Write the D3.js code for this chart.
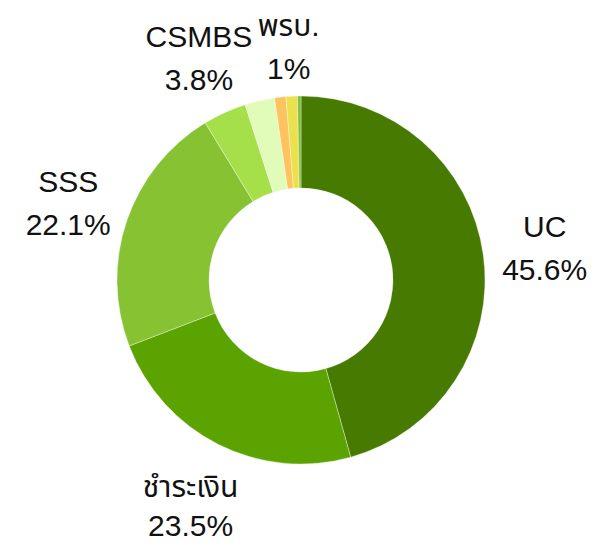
<!DOCTYPE html>
<html>
<head>
<meta charset="utf-8">
<script src="https://cdn.jsdelivr.net/npm/d3@7"></script>
<style>
  html, body { margin: 0; padding: 0; background: #fff; }
  svg { display: block; }
  text { font-family: "Liberation Sans", Arial, "Noto Sans Thai", sans-serif; }
</style>
</head>
<body>
<svg id="chart" width="600" height="543"></svg>
<script>
// ---- data ----
const categories = ["UC", "ชำระเงิน", "SSS", "CSMBS", "อปท.", "ประกันเอกชน", "พรบ.", "อื่นๆ"];
const values = [45.6, 23.5, 22.1, 3.8, 2.6, 1.0, 1.0, 0.3];
const labelNames = ["UC", "ชำระเงิน", "SSS", "CSMBS", "", "", "พรบ.", ""];
const labelValues = ["45.6%", "23.5%", "22.1%", "3.8%", "", "", "1%", ""];
const colors = ["#467a00", "#5ba300", "#86c232", "#a5e04b", "#e1fbb9", "#fdc35e", "#ebe04e", "#7fbf3a"];

// ---- layout ----
const cx = 301, cy = 280, outerR = 184, innerR = 92, labelR = 246;
const labelShift = { "ชำระเงิน": 6, "พรบ.": 11 };
const lineGap = { "ชำระเงิน": 39 };

const svg = d3.select("#chart");
const g = svg.append("g").attr("transform", `translate(${cx},${cy})`);

const data = categories.map((c, i) => ({ cat: c, value: values[i], name: labelNames[i], pct: labelValues[i], color: colors[i] }));

const pie = d3.pie().value(d => d.value).sort(null);
const arc = d3.arc().innerRadius(innerR).outerRadius(outerR);
const labelArc = d3.arc().innerRadius(labelR).outerRadius(labelR);

const arcs = pie(data);

g.selectAll("path.slice")
  .data(arcs)
  .join("path")
  .attr("class", "slice")
  .attr("d", arc)
  .attr("fill", d => d.data.color)
  .attr("stroke", "#ffffff")
  .attr("stroke-opacity", 0.6)
  .attr("stroke-width", 0.6);

const labels = g.selectAll("g.label")
  .data(arcs.filter(d => d.data.name))
  .join("g")
  .attr("class", "label")
  .attr("transform", d => {
    const [x, y] = labelArc.centroid(d);
    return `translate(${x},${y + (labelShift[d.data.name] || 0)})`;
  });

labels.append("text")
  .attr("text-anchor", "middle")
  .attr("y", -9)
  .attr("font-size", 30)
  .attr("fill", "#111")
  .text(d => d.data.name);

labels.append("text")
  .attr("text-anchor", "middle")
  .attr("y", d => -9 + (lineGap[d.data.name] || 43))
  .attr("font-size", 30)
  .attr("fill", "#111")
  .text(d => d.data.pct);
</script>
</body>
</html>
